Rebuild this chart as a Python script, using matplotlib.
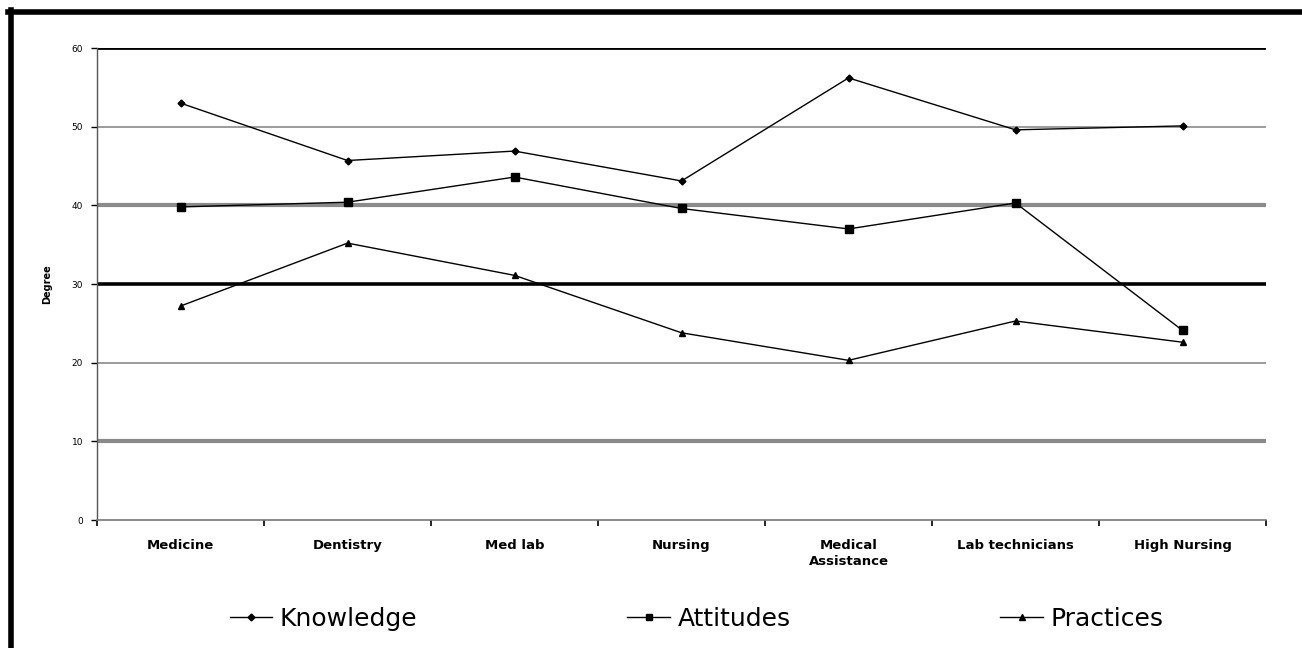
import matplotlib
matplotlib.use("Agg")
import matplotlib.pyplot as plt
from matplotlib.lines import Line2D

categories = ["Medicine", "Dentistry", "Med lab", "Nursing",
              "Medical\nAssistance", "Lab technicians", "High Nursing"]
knowledge = [53.0, 45.7, 46.9, 43.1, 56.2, 49.6, 50.1]
attitudes = [39.8, 40.4, 43.6, 39.6, 37.0, 40.3, 24.1]
practices = [27.2, 35.2, 31.1, 23.8, 20.3, 25.3, 22.6]
y_ticks = [0, 10, 20, 30, 40, 50, 60]

plt.rcParams["font.family"] = ["DejaVu Sans"]

fig = plt.figure(figsize=(13.02, 6.48), dpi=100)
ax = fig.add_axes([0.0745, 0.1975, 0.8979, 0.7284])

x = list(range(len(categories)))

# horizontal gridlines of varying weight
grid_styles = {10: (3.0, "#8a8a8a"), 20: (1.2, "#8a8a8a"), 30: (2.6, "black"),
               40: (3.0, "#8a8a8a"), 50: (1.2, "#8a8a8a"), 60: (2.0, "black")}
for v, (lw, c) in grid_styles.items():
    ax.axhline(v, color=c, lw=lw, zorder=1)

ax.plot(x, knowledge, color="black", lw=1.0, marker="D", ms=3.5, zorder=3)
ax.plot(x, attitudes, color="black", lw=1.0, marker="s", ms=5.5, zorder=3)
ax.plot(x, practices, color="black", lw=1.0, marker="^", ms=5, zorder=3)

ax.set_xlim(-0.5, len(categories) - 0.5)
ax.set_ylim(0, 60)
ax.set_yticks(y_ticks)
ax.set_yticklabels([str(v) for v in y_ticks], fontsize=6.5)
ax.set_xticks([i - 0.5 for i in range(len(categories) + 1)])
ax.set_xticklabels([])
ax.set_xticks(x, minor=True)
ax.set_xticklabels(categories, minor=True, fontsize=9.5, fontweight="bold",
                   linespacing=1.25)
ax.tick_params(axis="x", which="minor", length=0, pad=14)
ax.tick_params(axis="x", which="major", length=4, width=1.2, direction="out")
ax.tick_params(axis="y", length=4, width=1.0, pad=6)

for s in ["top", "right"]:
    ax.spines[s].set_visible(False)
ax.spines["left"].set_color("#555555")
ax.spines["left"].set_linewidth(1.0)
ax.spines["bottom"].set_color("#777777")
ax.spines["bottom"].set_linewidth(1.2)

ax.set_ylabel("Degree", fontsize=7, fontweight="bold", labelpad=14)

handles = [
    Line2D([], [], color="black", lw=1.0, marker="D", ms=3.5),
    Line2D([], [], color="black", lw=1.0, marker="s", ms=4),
    Line2D([], [], color="black", lw=1.0, marker="^", ms=4),
]
fig.legend(handles, ["Knowledge", "Attitudes", "Practices"], ncol=3,
           loc="center", bbox_to_anchor=(0.535, 0.045), frameon=False,
           fontsize=18, handlelength=1.7, handletextpad=0.3,
           columnspacing=8.4)

# black frame along the top and left edges
fig.add_artist(Line2D([0.0085, 0.0085], [0.0, 0.9846], color="black", lw=4,
                      transform=fig.transFigure))
fig.add_artist(Line2D([0.0062, 1.0], [0.9815, 0.9815], color="black", lw=4,
                      transform=fig.transFigure))

fig.savefig("out.png", dpi=100)
